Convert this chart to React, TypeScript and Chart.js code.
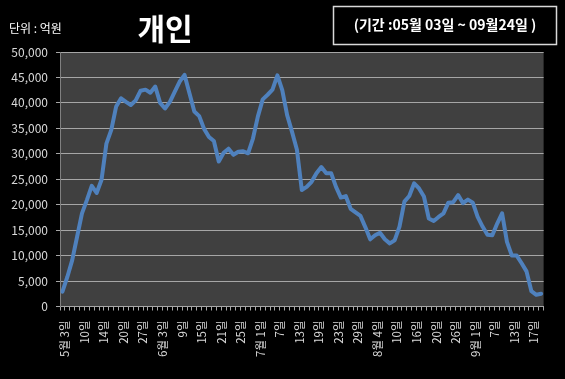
import React, { useEffect, useRef } from "react";
import { Chart, registerables } from "chart.js";

Chart.register(...registerables);

// Trading dates (MM-DD)
const dates: string[] = [
  "05-03","05-04","05-06","05-07","05-10","05-11","05-12","05-13","05-14","05-17","05-18","05-19","05-20","05-21","05-24","05-25","05-27","05-28",
  "06-01","06-02","06-03","06-04","06-07","06-08","06-09","06-10","06-11","06-14","06-15","06-16","06-17","06-18","06-21","06-22","06-23","06-24","06-25","06-28","06-29","06-30",
  "07-01","07-02","07-05","07-06","07-07","07-08","07-09","07-12","07-13","07-14","07-15","07-16","07-19","07-20","07-21","07-22","07-23","07-26","07-27","07-28","07-29","07-30",
  "08-02","08-03","08-04","08-05","08-06","08-09","08-10","08-11","08-12","08-13","08-16","08-17","08-18","08-19","08-20","08-23","08-24","08-25","08-26","08-27","08-30","08-31",
  "09-01","09-02","09-03","09-06","09-07","09-08","09-09","09-10","09-13","09-14","09-15","09-16","09-17","09-23","09-24",
];

// 개인 (억원)
const values: number[] = [
  2900, 5800, 9100, 13700, 18300, 20900, 23700, 22300, 24900, 32000,
  34700, 39300, 40900, 40200, 39600, 40500, 42400, 42600, 42000, 43200,
  40000, 38900, 40200, 42200, 44200, 45500, 41900, 38300, 37400, 34900,
  33300, 32500, 28500, 30200, 31000, 29800, 30400, 30500, 30100, 33000,
  37300, 40700, 41600, 42600, 45400, 42500, 37600, 34300, 30800, 22900,
  23500, 24500, 26200, 27400, 26200, 26200, 23500, 21400, 21700, 19200,
  18500, 17800, 15600, 13200, 14000, 14500, 13200, 12400, 13000, 15700,
  20600, 21700, 24200, 23200, 21600, 17300, 16800, 17600, 18300, 20400,
  20500, 21900, 20300, 21000, 20400, 17600, 15700, 14100, 14000, 16300,
  18300, 12700, 10000, 10000, 8500, 6900, 3000, 2300, 2500,
];

const yMin = 0;
const yMax = 50000;
const yStep = 5000;
const labelEvery = 4;

const unitText = "단위 : 억원";
const titleText = "개인";
const periodText = "(기간 :05월 03일 ~ 09월24일 )";

const FONT = '"Noto Sans CJK KR", "Noto Sans", sans-serif';

function formatDateLabel(index: number): string {
  if (index % labelEvery !== 0) return "";
  const [m, d] = dates[index].split("-").map((s) => parseInt(s, 10));
  const prev = index - labelEvery >= 0 ? parseInt(dates[index - labelEvery].split("-")[0], 10) : -1;
  if (prev !== m) return `${m}월 ${d}일`;
  return `${d}일`;
}

export default function App() {
  const ref = useRef<HTMLCanvasElement | null>(null);

  useEffect(() => {
    if (!ref.current) return;

    const bgPlugin = {
      id: "bg",
      beforeDraw(chart: any) {
        const { ctx, chartArea } = chart;
        ctx.save();
        ctx.fillStyle = "#000000";
        ctx.fillRect(0, 0, chart.width, chart.height);
        ctx.fillStyle = "#404040";
        ctx.fillRect(chartArea.left, chartArea.top, chartArea.right - chartArea.left, chartArea.bottom - chartArea.top);
        ctx.restore();
      },
      afterDraw(chart: any) {
        const { ctx } = chart;
        ctx.save();
        ctx.fillStyle = "#ffffff";
        ctx.textBaseline = "middle";
        ctx.textAlign = "left";
        ctx.font = `12px ${FONT}`;
        ctx.fillText(unitText, 9, 28);
        ctx.textAlign = "center";
        ctx.font = `bold 30px ${FONT}`;
        ctx.fillText(titleText, 165, 29);
        ctx.strokeStyle = "#d9d9d9";
        ctx.lineWidth = 1.5;
        ctx.strokeRect(333.5, 6.5, 223, 38);
        ctx.font = `bold 14px ${FONT}`;
        ctx.fillText(periodText, 445, 25);
        ctx.restore();
      },
    };

    const chart = new Chart(ref.current, {
      type: "line",
      data: {
        labels: dates,
        datasets: [
          {
            data: values,
            borderColor: "#4f81bd",
            borderWidth: 4,
            pointRadius: 0,
            tension: 0,
            fill: false,
            borderJoinStyle: "round",
            borderCapStyle: "round",
          },
        ],
      },
      options: {
        animation: false,
        responsive: false,
        devicePixelRatio: 1,
        layout: { padding: { top: 52, right: 6, left: 0, bottom: 0 } },
        plugins: { legend: { display: false }, tooltip: { enabled: false } },
        scales: {
          x: {
            type: "category",
            offset: true,
            grid: { offset: true, drawOnChartArea: false, color: "#a6a6a6", tickLength: 4 },
            border: { color: "#a6a6a6" },
            ticks: {
              autoSkip: false,
              maxRotation: 90,
              minRotation: 90,
              padding: 10,
              labelOffset: 2.5,
              color: "#d9d9d9",
              font: { family: FONT, size: 11.5 },
              callback: (_v: any, i: number) => formatDateLabel(i),
            },
            afterFit: (s: any) => {
              s.height = 72.5;
            },
          },
          y: {
            min: yMin,
            max: yMax,
            ticks: {
              stepSize: yStep,
              padding: 8,
              color: "#d9d9d9",
              font: { family: FONT, size: 12 },
              callback: (v: any) => Number(v).toLocaleString("en-US"),
            },
            grid: { color: "#a6a6a6", tickLength: 4 },
            border: { color: "#808080" },
            afterFit: (s: any) => {
              s.width = 60;
            },
          },
        },
      },
      plugins: [bgPlugin],
    });

    return () => chart.destroy();
  }, []);

  return (
    <div style={{ position: "fixed", left: 0, top: 0, width: 565, height: 379, background: "#000" }}>
      <canvas ref={ref} width={565} height={379} style={{ width: 565, height: 379, display: "block" }} />
    </div>
  );
}
